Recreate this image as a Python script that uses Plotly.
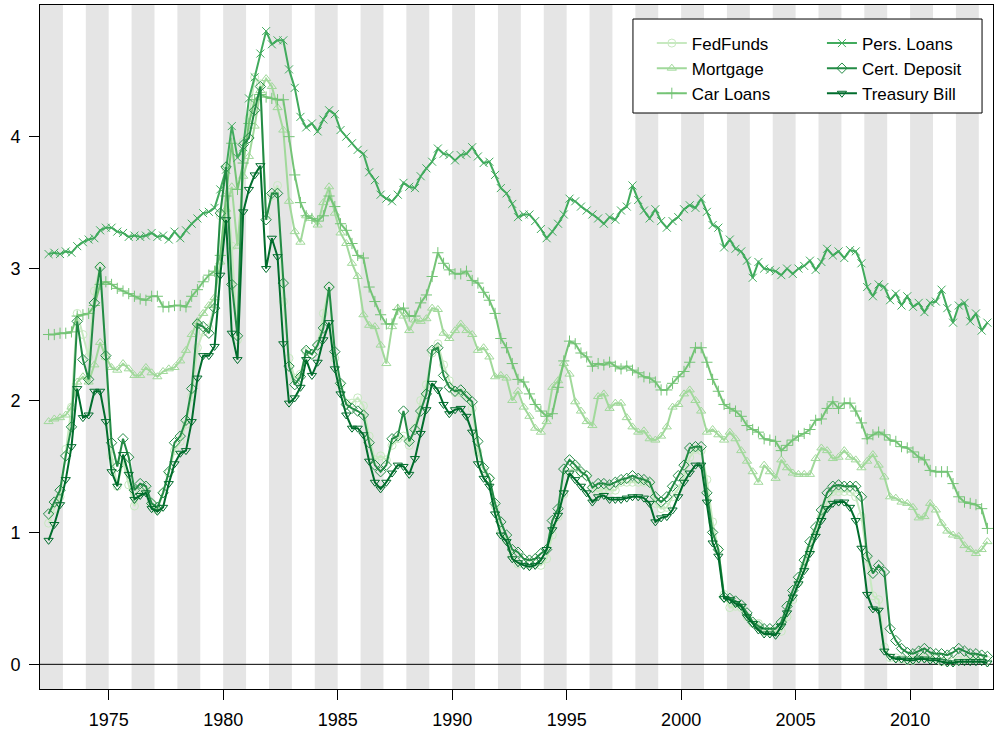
import plotly.graph_objects as go

# Quarterly observations, 1972 Q2 .. 2013 Q2 (plotted at mid-quarter)
first_year, first_quarter, n_quarters = 1972, 2, 165
quarters = [first_year + (first_quarter - 1 + k + 0.5) / 4 for k in range(n_quarters)]

fedfunds = [
    1.07, 1.18, 1.27,
    1.63, 1.95, 2.66, 2.50,
    2.33, 2.83, 3.02, 2.33,
    1.58, 1.35, 1.54, 1.36,
    1.20, 1.30, 1.32, 1.22,
    1.17, 1.30, 1.45, 1.62,
    1.69, 1.82, 2.03, 2.40,
    2.52, 2.55, 2.73, 3.40,
    3.76, 3.17, 2.46, 3.96,
    4.14, 4.45, 4.40, 3.40,
    3.55, 3.63, 2.75, 2.32,
    2.17, 2.20, 2.37, 2.35,
    2.42, 2.66, 2.86, 2.32,
    2.12, 1.98, 1.98, 2.02,
    1.96, 1.73, 1.55, 1.58,
    1.55, 1.66, 1.71, 1.73,
    1.66, 1.79, 2.00, 2.12,
    2.36, 2.43, 2.27, 2.15,
    2.06, 2.06, 2.04, 1.94,
    1.61, 1.47, 1.41, 1.20,
    1.00, 0.94, 0.82, 0.76,
    0.76, 0.75, 0.76, 0.75,
    0.80, 0.98, 1.12, 1.29,
    1.45, 1.50, 1.45, 1.43,
    1.34, 1.31, 1.33, 1.32,
    1.32, 1.38, 1.38, 1.38,
    1.38, 1.38, 1.38, 1.22,
    1.18, 1.19, 1.27, 1.33,
    1.42, 1.57, 1.63, 1.62,
    1.40, 1.08, 0.87, 0.53,
    0.43, 0.44, 0.43, 0.36,
    0.31, 0.31, 0.25, 0.25,
    0.25, 0.25, 0.36, 0.49,
    0.62, 0.74, 0.87, 1.00,
    1.12, 1.23, 1.31, 1.31,
    1.31, 1.31, 1.27, 1.12,
    0.80, 0.52, 0.49, 0.13,
    0.05, 0.05, 0.04, 0.03,
    0.03, 0.05, 0.05, 0.05,
    0.04, 0.02, 0.02, 0.02,
    0.03, 0.04, 0.04, 0.04,
    0.04, 0.03,
]

mortgage = [
    1.84, 1.86, 1.87,
    1.89, 1.95, 2.14, 2.18,
    2.14, 2.27, 2.44, 2.33,
    2.25, 2.23, 2.28, 2.24,
    2.19, 2.19, 2.25, 2.21,
    2.18, 2.22, 2.24, 2.25,
    2.30, 2.38, 2.50, 2.60,
    2.66, 2.72, 2.78, 3.05,
    3.45, 3.62, 3.17, 3.70,
    3.85, 4.08, 4.35, 4.44,
    4.38, 4.22, 4.05, 3.51,
    3.28, 3.20, 3.40, 3.38,
    3.33, 3.50, 3.62, 3.42,
    3.27, 3.19, 3.04, 2.94,
    2.65, 2.57, 2.56, 2.42,
    2.28, 2.56, 2.70, 2.64,
    2.53, 2.61, 2.60, 2.62,
    2.70, 2.69, 2.51, 2.47,
    2.53, 2.58, 2.53, 2.50,
    2.38, 2.40, 2.33, 2.18,
    2.19, 2.17, 2.00, 2.07,
    1.95, 1.88, 1.79, 1.76,
    1.84, 2.10, 2.15, 2.28,
    2.20, 1.99, 1.92, 1.84,
    1.81, 2.03, 2.05, 1.94,
    1.98, 1.98, 1.87, 1.80,
    1.76, 1.77, 1.71, 1.70,
    1.73, 1.80, 1.95, 1.97,
    2.05, 2.08, 2.00, 1.92,
    1.76, 1.78, 1.74, 1.70,
    1.76, 1.71, 1.62, 1.54,
    1.46, 1.38, 1.51, 1.46,
    1.41, 1.55, 1.49, 1.45,
    1.44, 1.44, 1.44, 1.56,
    1.64, 1.62, 1.56, 1.57,
    1.62, 1.57, 1.55, 1.49,
    1.54, 1.59, 1.51, 1.42,
    1.27, 1.26, 1.23, 1.22,
    1.19, 1.11, 1.12, 1.22,
    1.17, 1.07, 1.01, 0.98,
    0.97, 0.90, 0.87, 0.84,
    0.87, 0.93,
]

car_loans = [
    2.50, 2.50, 2.51,
    2.51, 2.52, 2.64, 2.65,
    2.66, 2.72, 2.88, 2.90,
    2.88, 2.85, 2.83, 2.81,
    2.79, 2.77, 2.76, 2.79,
    2.79, 2.71, 2.71, 2.72,
    2.72, 2.71, 2.79, 2.84,
    2.90, 2.95, 2.98, 3.10,
    3.55, 3.95, 3.60, 3.80,
    4.10, 4.28, 4.32, 4.30,
    4.29, 4.28, 4.28, 4.00,
    3.71, 3.50, 3.40, 3.38,
    3.36, 3.40, 3.55, 3.47,
    3.34, 3.29, 3.19, 3.10,
    3.08, 2.86, 2.75, 2.65,
    2.58, 2.58, 2.69, 2.70,
    2.64, 2.64, 2.74, 2.80,
    2.94, 3.12, 3.04, 2.99,
    2.96, 2.96, 2.98, 2.91,
    2.89, 2.82, 2.76, 2.66,
    2.47, 2.40, 2.28, 2.16,
    2.14, 2.05, 1.97, 1.92,
    1.88, 1.90, 2.10, 2.30,
    2.45, 2.43, 2.36, 2.33,
    2.26, 2.28, 2.27, 2.29,
    2.26, 2.24, 2.26, 2.23,
    2.21, 2.18, 2.17, 2.14,
    2.08, 2.08, 2.13, 2.18,
    2.22, 2.29, 2.40, 2.40,
    2.29, 2.16, 2.07, 1.97,
    1.94, 1.92, 1.88, 1.81,
    1.78, 1.76, 1.71, 1.70,
    1.69, 1.62, 1.66, 1.70,
    1.73, 1.75, 1.78, 1.85,
    1.86, 1.94, 1.99, 1.94,
    1.98, 1.98, 1.92, 1.83,
    1.71, 1.74, 1.76, 1.74,
    1.70, 1.69, 1.65, 1.64,
    1.61, 1.57, 1.55, 1.47,
    1.46, 1.46, 1.46, 1.37,
    1.27, 1.23, 1.22, 1.21,
    1.18, 1.03,
]

pers_loans = [
    3.11, 3.12, 3.11,
    3.13, 3.12, 3.17, 3.20,
    3.22, 3.23, 3.29, 3.31,
    3.31, 3.28, 3.27, 3.24,
    3.25, 3.24, 3.25, 3.27,
    3.24, 3.25, 3.22, 3.28,
    3.23, 3.29, 3.34, 3.38,
    3.42, 3.43, 3.46, 3.60,
    3.75, 4.08, 3.84, 3.92,
    4.29, 4.45, 4.63, 4.80,
    4.70, 4.73, 4.73, 4.51,
    4.37, 4.15, 4.07, 4.10,
    4.04, 4.13, 4.20, 4.17,
    4.05, 4.00, 3.95, 3.90,
    3.87, 3.73, 3.67, 3.56,
    3.53, 3.51, 3.56, 3.65,
    3.62, 3.61, 3.70, 3.76,
    3.81, 3.91, 3.87, 3.86,
    3.82, 3.86, 3.87, 3.92,
    3.85, 3.80, 3.81, 3.71,
    3.61, 3.57, 3.49, 3.39,
    3.41, 3.41, 3.36, 3.30,
    3.23, 3.28, 3.34, 3.41,
    3.53, 3.51, 3.47, 3.44,
    3.41, 3.38, 3.34, 3.39,
    3.37, 3.44, 3.47, 3.63,
    3.52, 3.44, 3.38, 3.45,
    3.36, 3.31, 3.36, 3.39,
    3.45, 3.48, 3.46, 3.53,
    3.43, 3.33, 3.31, 3.16,
    3.22, 3.15, 3.13, 3.06,
    2.93, 3.05, 3.00, 2.99,
    2.98, 2.95, 3.00, 2.96,
    3.00, 3.02, 3.06, 2.99,
    3.05, 3.15, 3.10, 3.13,
    3.08, 3.14, 3.13, 3.04,
    2.86, 2.79, 2.88, 2.86,
    2.76, 2.81, 2.72, 2.79,
    2.71, 2.74, 2.67, 2.74,
    2.75, 2.84, 2.70, 2.59,
    2.72, 2.74, 2.60, 2.66,
    2.53, 2.59,
]

cert_deposit = [
    1.14, 1.23, 1.32,
    1.58, 1.80, 2.60, 2.31,
    2.16, 2.74, 3.01, 2.34,
    1.68, 1.50, 1.71, 1.57,
    1.32, 1.37, 1.35, 1.22,
    1.19, 1.30, 1.46, 1.68,
    1.73, 1.85, 2.09, 2.58,
    2.56, 2.51, 2.70, 3.42,
    3.77, 2.88, 2.49, 3.94,
    3.99, 4.20, 4.38, 3.37,
    3.57, 3.57, 2.89, 2.26,
    2.12, 2.18, 2.38, 2.35,
    2.42, 2.55, 2.86, 2.37,
    2.13, 1.97, 1.94, 1.92,
    1.89, 1.68, 1.51, 1.46,
    1.51, 1.71, 1.73, 1.92,
    1.69, 1.78, 1.92, 2.05,
    2.38, 2.40, 2.19, 2.10,
    2.07, 2.08, 2.03, 1.99,
    1.69, 1.49, 1.41, 1.22,
    1.08, 0.98, 0.87, 0.85,
    0.80, 0.79, 0.80, 0.84,
    0.87, 1.09, 1.18, 1.48,
    1.55, 1.51, 1.46, 1.43,
    1.34, 1.37, 1.37, 1.36,
    1.38, 1.40, 1.41, 1.43,
    1.41, 1.40, 1.38, 1.27,
    1.23, 1.27, 1.35, 1.43,
    1.51, 1.64, 1.65, 1.65,
    1.30, 1.00, 0.87, 0.51,
    0.50, 0.48, 0.45, 0.39,
    0.32, 0.29, 0.27, 0.27,
    0.27, 0.32, 0.44, 0.56,
    0.66, 0.79, 0.93, 1.04,
    1.17, 1.30, 1.35, 1.36,
    1.35, 1.35, 1.35, 1.27,
    0.82, 0.69, 0.75, 0.70,
    0.27, 0.18, 0.12, 0.09,
    0.08, 0.10, 0.12, 0.09,
    0.08, 0.08, 0.07, 0.09,
    0.12, 0.10, 0.08, 0.08,
    0.07, 0.06,
]

treasury_bill = [
    0.94, 1.06, 1.21,
    1.40, 1.65, 2.09, 1.87,
    1.89, 2.07, 2.07, 1.84,
    1.46, 1.35, 1.59, 1.44,
    1.25, 1.28, 1.30, 1.18,
    1.16, 1.19, 1.37, 1.52,
    1.60, 1.62, 1.84, 2.17,
    2.34, 2.34, 2.41, 2.95,
    3.37, 2.51, 2.31, 3.43,
    3.60, 3.71, 3.78, 3.00,
    3.23, 3.09, 2.43, 1.98,
    2.02, 2.10, 2.31, 2.19,
    2.29, 2.46, 2.59, 2.24,
    2.05, 1.89, 1.79, 1.79,
    1.74, 1.54, 1.38, 1.33,
    1.38, 1.45, 1.51, 1.50,
    1.44, 1.56, 1.75, 1.93,
    2.13, 2.08, 1.97, 1.90,
    1.93, 1.94, 1.88, 1.76,
    1.52, 1.41, 1.35, 1.14,
    0.98, 0.93, 0.80, 0.77,
    0.75, 0.74, 0.75, 0.79,
    0.87, 1.02, 1.13, 1.30,
    1.45, 1.40, 1.35, 1.30,
    1.23, 1.27, 1.28, 1.25,
    1.25, 1.25, 1.26, 1.27,
    1.27, 1.26, 1.22, 1.08,
    1.11, 1.12, 1.17, 1.27,
    1.38, 1.45, 1.51, 1.51,
    1.23, 0.92, 0.82, 0.50,
    0.49, 0.46, 0.44, 0.36,
    0.31, 0.26, 0.23, 0.23,
    0.22, 0.29, 0.39, 0.51,
    0.61, 0.71, 0.84, 0.97,
    1.09, 1.18, 1.22, 1.23,
    1.23, 1.19, 1.09, 0.88,
    0.53, 0.42, 0.41, 0.10,
    0.06, 0.04, 0.04, 0.03,
    0.03, 0.04, 0.04, 0.03,
    0.03, 0.02, 0.01, 0.01,
    0.02, 0.02, 0.02, 0.02,
    0.02, 0.01,
]

series_names = ["FedFunds", "Mortgage", "Car Loans", "Pers. Loans", "Cert. Deposit", "Treasury Bill"]
series_values = [fedfunds, mortgage, car_loans, pers_loans, cert_deposit, treasury_bill]
series_colors = ["#C7E9C0", "#A1D99B", "#74C476", "#41AB5D", "#238B45", "#006D2C"]
series_symbols = ["circle-open", "triangle-up-open", "cross-thin-open",
                  "x-thin-open", "diamond-open", "triangle-down-open"]
series_legend = ["legend", "legend", "legend", "legend2", "legend2", "legend2"]

x_ticks = [1975, 1980, 1985, 1990, 1995, 2000, 2005, 2010]
y_ticks = [0, 1, 2, 3, 4]
x_range = [1972.0, 2013.62]
y_range = [-0.187, 4.998]

FONT = "Liberation Sans, Arial, Helvetica, sans-serif"

fig = go.Figure()
for name, vals, col, sym, lg in zip(series_names, series_values, series_colors,
                                    series_symbols, series_legend):
    assert len(vals) == n_quarters, name
    fig.add_trace(go.Scatter(
        x=quarters, y=vals, name=name, mode="lines+markers",
        line=dict(color=col, width=2),
        marker=dict(symbol=sym, size=8, color=col, line=dict(color=col, width=1)),
        legend=lg,
    ))

# alternating year bands
shapes = []
for yr in range(int(x_range[0]), int(x_range[1]) + 1, 2):
    shapes.append(dict(type="rect", xref="x", yref="y domain",
                       x0=yr, x1=min(yr + 1, x_range[1]), y0=0, y1=1,
                       fillcolor="#E5E5E5", line=dict(width=0), layer="below"))
shapes.append(dict(type="line", xref="x domain", yref="y", x0=0, x1=1, y0=0, y1=0,
                   line=dict(color="black", width=1), layer="below"))
# legend box
shapes.append(dict(type="rect", xref="paper", yref="paper",
                   x0=0.6222, x1=0.9885, y0=0.8421, y1=0.9795,
                   fillcolor="white", line=dict(color="black", width=1), layer="above"))

LEGEND_FONT = dict(family=FONT, size=17, color="black")
fig.update_layout(
    width=995, height=733,
    margin=dict(l=40, r=2, t=5, b=44),
    paper_bgcolor="white", plot_bgcolor="white",
    font=dict(family=FONT, size=18, color="black"),
    shapes=shapes,
    showlegend=True,
    legend=dict(x=0.642, y=0.970, xanchor="left", yanchor="top",
                bgcolor="rgba(0,0,0,0)", borderwidth=0, font=LEGEND_FONT),
    legend2=dict(x=0.8205, y=0.970, xanchor="left", yanchor="top",
                 bgcolor="rgba(0,0,0,0)", borderwidth=0, font=LEGEND_FONT),
)
fig.update_xaxes(range=x_range, tickvals=x_ticks, ticks="outside", ticklen=10,
                 tickcolor="black", showgrid=False, zeroline=False,
                 showline=True, linecolor="black", linewidth=1, mirror=True,
                 tickfont=dict(family=FONT, size=18, color="black"),
                 ticklabelstandoff=4)
fig.update_yaxes(range=y_range, tickvals=y_ticks, ticks="outside", ticklen=10,
                 tickcolor="black", showgrid=False, zeroline=False,
                 showline=True, linecolor="black", linewidth=1, mirror=True,
                 tickfont=dict(family=FONT, size=18, color="black"),
                 ticklabelstandoff=5)

fig.write_html("out.html", config={"displayModeBar": False},
               post_script="document.body.style.margin='0px';")
